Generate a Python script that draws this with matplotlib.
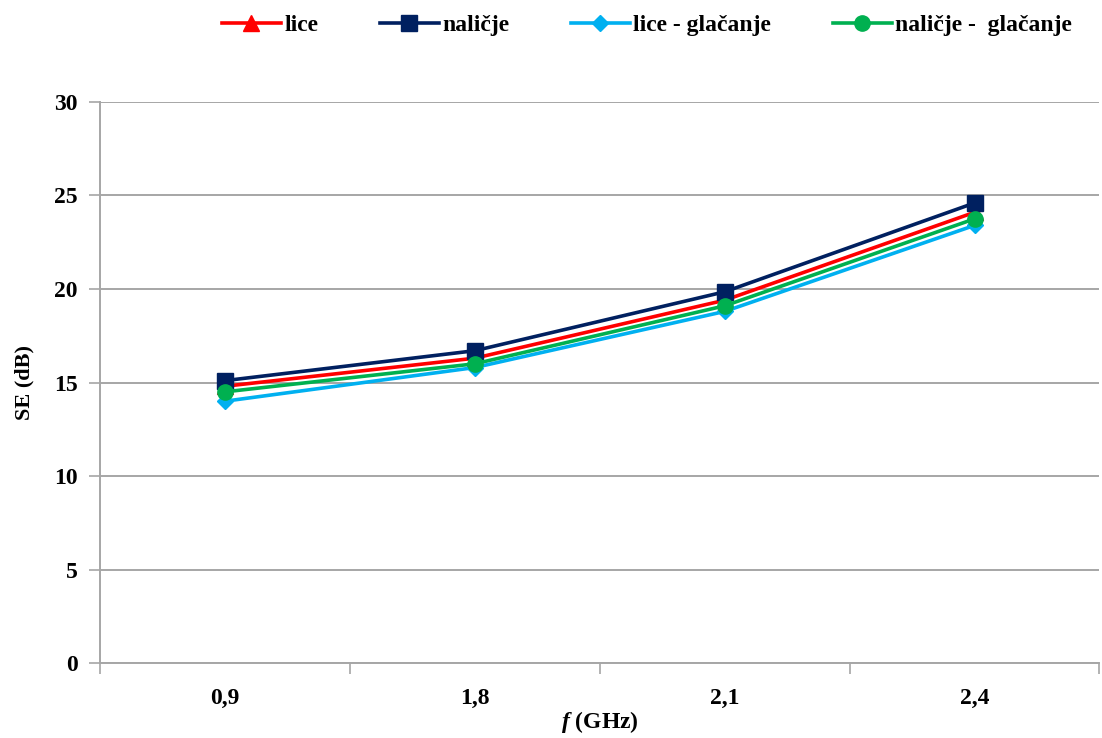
import matplotlib.pyplot as plt

freqs = ["0,9", "1,8", "2,1", "2,4"]
lice = [14.8, 16.3, 19.4, 24.1]
nalicje = [15.1, 16.7, 19.85, 24.6]
lice_glac = [14.0, 15.8, 18.8, 23.4]
nalicje_glac = [14.5, 16.0, 19.1, 23.75]
yticks = [0, 5, 10, 15, 20, 25, 30]

plt.rcParams['font.family'] = ['Liberation Serif', 'DejaVu Serif']
plt.rcParams['font.weight'] = 'bold'
plt.rcParams['mathtext.fontset'] = 'custom'
plt.rcParams['mathtext.it'] = 'Liberation Serif:italic:bold'
plt.rcParams['mathtext.rm'] = 'Liberation Serif:bold'

fig = plt.figure(figsize=(11.02, 7.38), dpi=100)
ax = fig.add_axes([0.0907, 0.1016, 0.907, 0.7602])

x = range(len(freqs))
ax.plot(x, lice, color="#FF0000", lw=2.6, marker="^", ms=11, label="lice")
ax.plot(x, nalicje, color="#002060", lw=2.6, marker="s", ms=11, label="naličje")
ax.plot(x, lice_glac, color="#00B0F0", lw=2.6, marker="D", ms=8, label="lice - glačanje")
ax.plot(x, nalicje_glac, color="#00B050", lw=2.6, marker="o", ms=11, label="naličje -  glačanje")

ax.set_xlim(-0.5, len(freqs) - 0.5)
ax.set_ylim(0, 30)
ax.set_yticks(yticks)
ax.set_yticklabels([str(v) for v in yticks], fontsize=17, fontweight='bold')
ax.set_xticks(list(x))
ax.set_xticklabels(freqs, fontsize=17, fontweight='bold')
ax.tick_params(axis='x', which='major', length=0, pad=18)
ax.set_xticks([i - 0.5 for i in range(len(freqs) + 1)], minor=True)
ax.tick_params(axis='x', which='minor', length=8, color="#A6A6A6", width=1.2)
ax.tick_params(axis='y', length=8, color="#A6A6A6", width=1.2, pad=8)

ax.grid(axis='y', color="#A6A6A6", lw=1.4)
ax.set_axisbelow(True)
for s in ["top", "right"]:
    ax.spines[s].set_visible(False)
for s in ["left", "bottom"]:
    ax.spines[s].set_color("#A6A6A6")
    ax.spines[s].set_linewidth(1.4)

ax.set_ylabel("SE (dB)", fontsize=16, fontweight='bold', labelpad=14)
ax.set_xlabel(r"$\mathit{f}$ (GHz)", fontsize=17, fontweight='bold', labelpad=0)

fig.legend(loc="center", bbox_to_anchor=(0.587, 0.966), ncol=4, frameon=False,
           handlelength=2.5, handletextpad=0.15, columnspacing=2.6,
           prop={'weight': 'bold', 'size': 17})

fig.savefig("out.png", dpi=100)
